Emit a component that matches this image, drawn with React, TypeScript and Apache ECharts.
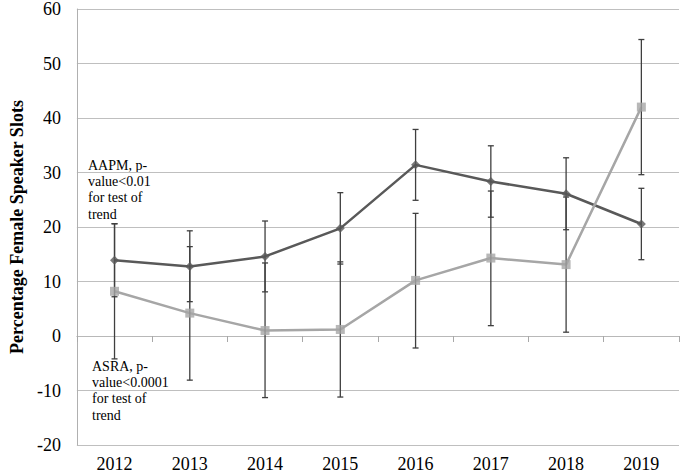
import React, { useEffect, useRef } from "react";
import * as echarts from "echarts";

const years = ["2012", "2013", "2014", "2015", "2016", "2017", "2018", "2019"];
const aapm = [13.9, 12.75, 14.6, 19.75, 31.4, 28.35, 26.1, 20.55];
const aapmLow = [7.2, 6.3, 8.1, 13.2, 24.9, 21.8, 19.5, 14.0];
const aapmHigh = [20.6, 19.3, 21.1, 26.3, 37.9, 34.9, 32.7, 27.1];
const asra = [8.2, 4.2, 1.0, 1.2, 10.2, 14.3, 13.1, 42.0];
const asraLow = [-4.2, -8.1, -11.3, -11.2, -2.2, 1.9, 0.7, 29.6];
const asraHigh = [20.6, 16.4, 13.4, 13.6, 22.5, 26.6, 25.5, 54.4];
const yTicks = { min: -20, max: 60, interval: 10 };
const aapmNote = "AAPM, p-\nvalue<0.01\nfor test of\ntrend";
const asraNote = "ASRA, p-\nvalue<0.0001\nfor test of\ntrend";

const SERIF = '"Liberation Serif", "Times New Roman", serif';

function errorSeries(low: number[], high: number[]) {
  return {
    type: "custom",
    xAxisIndex: 0,
    z: 3,
    data: low.map((l, i) => [i, l, high[i]]),
    renderItem: (params: any, api: any) => {
      const x = api.value(0);
      const lo = api.coord([x, api.value(1)]);
      const hi = api.coord([x, api.value(2)]);
      const w = 3;
      const style = { stroke: "#3f3f3f", lineWidth: 1.3 };
      return {
        type: "group",
        children: [
          { type: "line", shape: { x1: lo[0], y1: lo[1], x2: hi[0], y2: hi[1] }, style },
          { type: "line", shape: { x1: lo[0] - w, y1: lo[1], x2: lo[0] + w, y2: lo[1] }, style },
          { type: "line", shape: { x1: hi[0] - w, y1: hi[1], x2: hi[0] + w, y2: hi[1] }, style },
        ],
      };
    },
  };
}

export default function App() {
  const ref = useRef<HTMLDivElement>(null);
  useEffect(() => {
    if (!ref.current) return;
    const chart = echarts.init(ref.current, undefined, { renderer: "svg" });
    chart.setOption({
      animation: false,
      grid: { left: 62, right: 1, top: 6.5, bottom: 28 },
      xAxis: [
        {
          type: "category",
          data: years,
          axisLine: { onZero: true, lineStyle: { color: "#b8b8b8", width: 1 } },
          axisTick: { show: true, length: 6, lineStyle: { color: "#a8a8a8" } },
          axisLabel: { show: false },
        },
        {
          type: "category",
          data: years,
          position: "bottom",
          axisLine: { show: false, onZero: false },
          axisTick: { show: false },
          axisLabel: { color: "#000", fontFamily: SERIF, fontSize: 18, margin: 10 },
        },
      ],
      yAxis: {
        type: "value",
        min: yTicks.min,
        max: yTicks.max,
        interval: yTicks.interval,
        name: "Percentage Female Speaker Slots",
        nameLocation: "middle",
        nameGap: 44,
        nameTextStyle: { color: "#000", fontFamily: SERIF, fontSize: 18, fontWeight: "bold" },
        axisLine: { show: true, lineStyle: { color: "#b0b0b0" } },
        axisTick: { show: false },
        axisLabel: { color: "#000", fontFamily: SERIF, fontSize: 18, margin: 16 },
        splitLine: { lineStyle: { color: "#bfbfbf", width: 1 } },
      },
      series: [
        {
          type: "line",
          data: aapm,
          xAxisIndex: 0,
          z: 2,
          symbol: "none",
          lineStyle: { color: "#595959", width: 2.5 },
        },
        {
          type: "line",
          data: asra,
          xAxisIndex: 0,
          z: 2,
          symbol: "none",
          lineStyle: { color: "#a6a6a6", width: 2.5 },
        },
        errorSeries(aapmLow, aapmHigh),
        errorSeries(asraLow, asraHigh),
        {
          type: "scatter",
          data: aapm,
          xAxisIndex: 0,
          z: 4,
          symbol: "diamond",
          symbolSize: 9,
          itemStyle: { color: "#595959" },
        },
        {
          type: "scatter",
          data: asra,
          xAxisIndex: 0,
          z: 4,
          symbol: "rect",
          symbolSize: 9,
          itemStyle: { color: "#a6a6a6" },
        },
      ],
      graphic: [
        {
          type: "text",
          left: 88,
          top: 157,
          style: { text: aapmNote, font: `14px ${SERIF}`, fill: "#000", lineHeight: 16.3 },
        },
        {
          type: "text",
          left: 92,
          top: 358,
          style: { text: asraNote, font: `14px ${SERIF}`, fill: "#000", lineHeight: 16.3 },
        },
      ],
    });
    return () => chart.dispose();
  }, []);
  return <div ref={ref} style={{ width: 680, height: 473, position: "absolute", left: 0, top: 0 }} />;
}
